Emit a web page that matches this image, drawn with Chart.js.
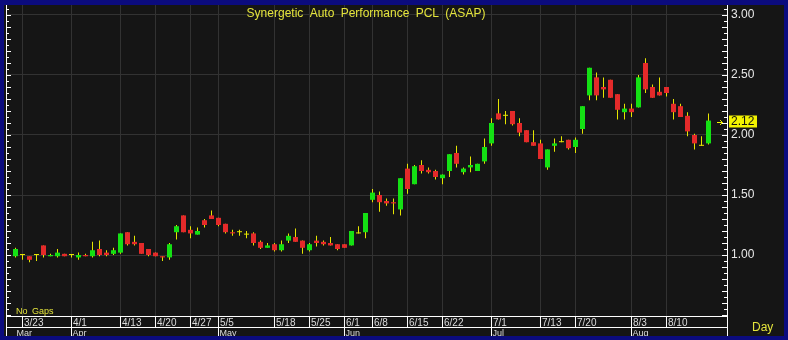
<!DOCTYPE html>
<html>
<head>
<meta charset="utf-8">
<title>ASAP daily</title>
<script src="https://cdn.jsdelivr.net/npm/chart.js"></script>
<style>
    html, body { margin: 0; padding: 0; background: #0b0b7e; }
    #wrap { width: 788px; height: 340px; }
</style>
</head>
<body>
<div id="wrap"><canvas id="candle-chart" width="788" height="340"></canvas></div>
<script>
// trading days shown on the chart
var dates = ['3/20', '3/23', '3/24', '3/25', '3/26', '3/27', '3/30', '3/31',
    '4/1', '4/2', '4/3', '4/7', '4/8', '4/9', '4/10', '4/13', '4/14', '4/15', '4/16', '4/17',
    '4/20', '4/21', '4/22', '4/23', '4/24', '4/27', '4/28', '4/29', '4/30',
    '5/5', '5/7', '5/8', '5/11', '5/12', '5/13', '5/14', '5/15', '5/18', '5/19', '5/20', '5/21', '5/22',
    '5/25', '5/26', '5/27', '5/28', '5/29',
    '6/1', '6/2', '6/4', '6/5', '6/8', '6/9', '6/10', '6/11', '6/12', '6/15', '6/16', '6/17', '6/18', '6/19',
    '6/22', '6/23', '6/24', '6/25', '6/26', '6/29', '6/30',
    '7/1', '7/2', '7/3', '7/7', '7/8', '7/9', '7/10', '7/13', '7/14', '7/15', '7/16', '7/17',
    '7/20', '7/21', '7/22', '7/23', '7/24', '7/29', '7/30', '7/31',
    '8/3', '8/4', '8/5', '8/6', '8/7', '8/10', '8/11', '8/13', '8/14', '8/17', '8/18', '8/19'];

var opens = [0.99, 1.00, 0.99, 1.00, 1.08, 0.99, 0.99, 1.01,
    1.00, 0.98, 1.00, 0.99, 1.05, 1.02, 1.01, 1.02, 1.19, 1.11, 1.10, 1.05,
    1.02, 0.99, 0.98, 1.19, 1.33, 1.21, 1.17, 1.29, 1.33,
    1.31, 1.26, 1.19, 1.19, 1.17, 1.18, 1.11, 1.06, 1.09, 1.04, 1.12, 1.15, 1.12,
    1.04, 1.12, 1.11, 1.10, 1.09,
    1.09, 1.08, 1.18, 1.19, 1.46, 1.50, 1.45, 1.44, 1.38, 1.72, 1.59, 1.75, 1.71, 1.70,
    1.64, 1.70, 1.85, 1.69, 1.73, 1.70, 1.78,
    1.93, 2.18, 2.16, 2.20, 2.10, 2.04, 1.94, 1.93, 1.73, 1.91, 1.94, 1.96,
    1.90, 2.05, 2.33, 2.48, 2.40, 2.46, 2.34, 2.19,
    2.22, 2.23, 2.60, 2.40, 2.36, 2.40, 2.26, 2.24, 2.16, 2.00, 1.91, 1.93];

var highs = [1.06, 1.00, 0.99, 1.00, 1.08, 1.01, 1.05, 1.01,
    1.00, 1.02, 1.01, 1.11, 1.12, 1.04, 1.06, 1.18, 1.19, 1.16, 1.10, 1.05,
    1.02, 0.99, 1.10, 1.25, 1.33, 1.24, 1.23, 1.30, 1.37,
    1.31, 1.26, 1.21, 1.21, 1.20, 1.19, 1.12, 1.10, 1.10, 1.12, 1.18, 1.22, 1.12,
    1.10, 1.16, 1.12, 1.15, 1.09,
    1.09, 1.20, 1.24, 1.35, 1.55, 1.53, 1.47, 1.47, 1.64, 1.76, 1.75, 1.79, 1.73, 1.71,
    1.67, 1.84, 1.91, 1.73, 1.82, 1.76, 1.97,
    2.14, 2.30, 2.20, 2.20, 2.14, 2.04, 2.04, 1.96, 1.88, 1.97, 1.99, 1.96,
    1.98, 2.24, 2.56, 2.52, 2.48, 2.46, 2.34, 2.26,
    2.26, 2.50, 2.64, 2.42, 2.48, 2.40, 2.30, 2.26, 2.19, 2.01, 1.99, 2.18];

var lows = [0.98, 0.96, 0.94, 0.95, 0.98, 0.99, 0.98, 0.99,
    0.98, 0.96, 0.99, 0.98, 0.99, 0.99, 1.00, 1.01, 1.08, 1.08, 1.01, 0.99,
    0.99, 0.95, 0.96, 1.13, 1.19, 1.14, 1.17, 1.23, 1.30,
    1.24, 1.18, 1.16, 1.16, 1.14, 1.08, 1.05, 1.06, 1.03, 1.03, 1.10, 1.11, 1.01,
    1.03, 1.07, 1.08, 1.08, 1.04,
    1.06, 1.08, 1.18, 1.14, 1.44, 1.36, 1.41, 1.34, 1.33, 1.51, 1.59, 1.68, 1.68, 1.63,
    1.59, 1.65, 1.73, 1.67, 1.69, 1.70, 1.76,
    1.91, 2.13, 2.09, 2.08, 1.99, 1.94, 1.91, 1.80, 1.71, 1.86, 1.94, 1.88,
    1.85, 2.01, 2.29, 2.29, 2.31, 2.31, 2.13, 2.13,
    2.15, 2.23, 2.35, 2.31, 2.33, 2.32, 2.13, 2.15, 1.99, 1.88, 1.91, 1.92];

var closes = [1.05, 1.00, 0.96, 1.00, 1.00, 1.00, 1.02, 0.99,
    1.00, 1.00, 0.99, 1.04, 1.00, 1.00, 1.04, 1.18, 1.09, 1.09, 1.01, 1.00,
    0.99, 0.98, 1.09, 1.24, 1.19, 1.18, 1.20, 1.25, 1.30,
    1.25, 1.19, 1.18, 1.19, 1.17, 1.10, 1.06, 1.08, 1.04, 1.09, 1.16, 1.11, 1.06,
    1.09, 1.10, 1.09, 1.08, 1.05,
    1.06, 1.20, 1.18, 1.35, 1.52, 1.44, 1.43, 1.43, 1.64, 1.55, 1.74, 1.70, 1.69, 1.65,
    1.67, 1.84, 1.76, 1.72, 1.75, 1.76, 1.90,
    2.10, 2.13, 2.16, 2.09, 2.02, 1.94, 1.91, 1.80, 1.88, 1.93, 1.94, 1.89,
    1.96, 2.24, 2.56, 2.33, 2.38, 2.31, 2.21, 2.22,
    2.19, 2.48, 2.38, 2.31, 2.33, 2.35, 2.19, 2.15, 2.03, 1.93, 1.91, 2.12];

// axis labels
var dayTicks = ['3/23', '4/1', '4/13', '4/20', '4/27', '5/5', '5/18', '5/25', '6/1', '6/8',
    '6/15', '6/22', '7/1', '7/13', '7/20', '8/3', '8/10'];
var monthTicks = ['Mar', 'Apr', 'May', 'Jun', 'Jul', 'Aug'];
var monthStarts = ['3/20', '4/1', '5/5', '6/1', '7/1', '8/3'];
var priceTicks = [1.00, 1.50, 2.00, 2.50, 3.00];
var chartTitle = 'Synergetic Auto Performance PCL (ASAP)';

var NAVY = '#0b0b7e';
var BG = '#151515';
var GRID = '#323232';
var UP = '#14e014';
var DOWN = '#e42a2a';
var WICK = '#e6e600';
var TEXT_Y = '#e4e43c';
var FONT = '"Liberation Sans", Arial, sans-serif';

var bodyData = [], wickData = [], bodyColors = [];
for (var i = 0; i < dates.length; i++) {
    bodyData.push({ x: i, y: [opens[i], closes[i]] });
    wickData.push({ x: i, y: [lows[i], highs[i]] });
    if (closes[i] > opens[i]) bodyColors.push(UP);
    else if (closes[i] < opens[i]) bodyColors.push(DOWN);
    else bodyColors.push(WICK);
}

var dayIdx = dayTicks.map(function (d) { return dates.indexOf(d); });
var monthIdx = monthStarts.map(function (d) { return dates.indexOf(d); });

var framePlugin = {
    id: 'framePlugin',
    beforeDraw: function (chart) {
        var ctx = chart.ctx;
        ctx.save();
        ctx.fillStyle = NAVY;
        ctx.fillRect(0, 0, chart.width, chart.height);
        ctx.fillStyle = BG;
        ctx.fillRect(4, 5, chart.width - 8, chart.height - 9);
        ctx.restore();
    },
    afterDraw: function (chart) {
        var ctx = chart.ctx;
        var a = chart.chartArea;
        var xs = chart.scales.x, ys = chart.scales.y;
        var bottom = chart.height - 4;
        var rowY = a.bottom + 11;
        ctx.save();

        // axis frame lines
        ctx.strokeStyle = '#ffffff';
        ctx.lineWidth = 1;
        ctx.beginPath();
        ctx.moveTo(a.left - 0.5, a.top); ctx.lineTo(a.left - 0.5, bottom);
        ctx.moveTo(a.right + 0.5, a.top); ctx.lineTo(a.right + 0.5, bottom);
        ctx.moveTo(a.left - 1, a.bottom + 0.5); ctx.lineTo(a.right + 1, a.bottom + 0.5);
        ctx.moveTo(a.left - 1, rowY + 0.5); ctx.lineTo(a.right + 1, rowY + 0.5);
        ctx.stroke();

        // minor price ticks on both sides
        ctx.beginPath();
        for (var k = 10; k <= 61; k++) {
            var py = Math.round(ys.getPixelForValue(k * 0.05)) + 0.5;
            if (py < a.top || py > a.bottom) continue;
            var len = (k % 2 === 0) ? 4 : 2;
            ctx.moveTo(a.left - 0.5, py); ctx.lineTo(a.left + len, py);
            ctx.moveTo(a.right + 0.5, py); ctx.lineTo(a.right - len - 1, py);
        }
        ctx.stroke();

        // date row
        ctx.fillStyle = '#dcdcdc';
        ctx.font = '10px ' + FONT;
        ctx.textBaseline = 'alphabetic';
        ctx.textAlign = 'left';
        ctx.beginPath();
        for (var d = 0; d < dayIdx.length; d++) {
            var px = xs.getPixelForValue(dayIdx[d]);
            ctx.moveTo(px, a.bottom + 0.5); ctx.lineTo(px, rowY + 0.5);
            ctx.fillText(dayTicks[d], px + 1.5, rowY - 1);
        }
        ctx.font = '9px ' + FONT;
        for (var m = 0; m < monthIdx.length; m++) {
            var mx = xs.getPixelForValue(monthIdx[m]);
            if (m > 0) { ctx.moveTo(mx, rowY + 0.5); ctx.lineTo(mx, bottom); }
            ctx.fillText(monthTicks[m], mx + 1, bottom - 0.5);
        }
        ctx.stroke();

        // title and captions
        ctx.fillStyle = TEXT_Y;
        ctx.font = '12px ' + FONT;
        ctx.wordSpacing = '3px';
        ctx.textAlign = 'center';
        ctx.fillText(chartTitle, 366, 16.5);
        ctx.textAlign = 'left';
        ctx.font = '9px ' + FONT;
        ctx.wordSpacing = '2px';
        ctx.fillText('No Gaps', 16, 314);
        ctx.wordSpacing = '0px';
        ctx.font = '12px ' + FONT;
        ctx.fillText('Day', 752, 331);

        // last price marker
        var last = closes[closes.length - 1];
        var ly = ys.getPixelForValue(last);
        ctx.fillStyle = '#f2f200';
        ctx.fillRect(a.right + 2, Math.round(ly) - 5.5, 28, 12);
        ctx.fillStyle = '#111111';
        ctx.textBaseline = 'middle';
        ctx.fillText(last.toFixed(2), a.right + 4, Math.round(ly) + 0.5);
        ctx.strokeStyle = '#f2f200';
        ctx.beginPath();
        var ay = Math.round(ly) + 1.5;
        ctx.moveTo(a.right - 10, ay); ctx.lineTo(a.right - 4.5, ay);
        ctx.moveTo(a.right - 7, ay - 2.5); ctx.lineTo(a.right - 4.5, ay); ctx.lineTo(a.right - 7, ay + 2.5);
        ctx.stroke();

        // outer border on top
        ctx.fillStyle = NAVY;
        ctx.fillRect(0, 0, chart.width, 5);
        ctx.fillRect(0, 0, 4, chart.height);
        ctx.fillRect(chart.width - 4, 0, 4, chart.height);
        ctx.fillRect(0, chart.height - 4, chart.width, 4);
        ctx.restore();
    }
};

new Chart(document.getElementById('candle-chart'), {
    type: 'bar',
    data: {
        datasets: [
            {
                data: bodyData,
                backgroundColor: bodyColors,
                borderWidth: 0,
                grouped: false,
                maxBarThickness: 5,
                minBarLength: 1,
                inflateAmount: 0
            },
            {
                data: wickData,
                backgroundColor: WICK,
                borderWidth: 0,
                grouped: false,
                maxBarThickness: 1,
                inflateAmount: 0
            }
        ]
    },
    options: {
        responsive: false,
        animation: false,
        events: [],
        layout: { padding: { left: 7, top: 5, right: 0, bottom: 0 } },
        plugins: {
            legend: { display: false },
            tooltip: { enabled: false }
        },
        scales: {
            x: {
                type: 'linear',
                offset: false,
                min: -8.5 / 7,
                max: 101.643,
                grid: { color: GRID, offset: false, drawTicks: false },
                border: { display: false },
                ticks: { display: false },
                afterBuildTicks: function (scale) {
                    scale.ticks = dayIdx.map(function (v) { return { value: v }; });
                },
                afterFit: function (scale) { scale.height = 24; }
            },
            y: {
                type: 'linear',
                position: 'right',
                min: 0.492,
                max: 3.083,
                grid: { color: GRID, drawTicks: false },
                border: { display: false },
                ticks: {
                    color: '#e8e8e8',
                    padding: 4,
                    font: { family: FONT, size: 12 },
                    callback: function (v) { return Number(v).toFixed(2); }
                },
                afterBuildTicks: function (scale) {
                    scale.ticks = priceTicks.map(function (v) { return { value: v }; });
                },
                afterFit: function (scale) {
                    scale.width = 61;
                    scale.paddingTop = 0;
                    scale.paddingBottom = 0;
                }
            }
        }
    },
    plugins: [framePlugin]
});
</script>
</body>
</html>
